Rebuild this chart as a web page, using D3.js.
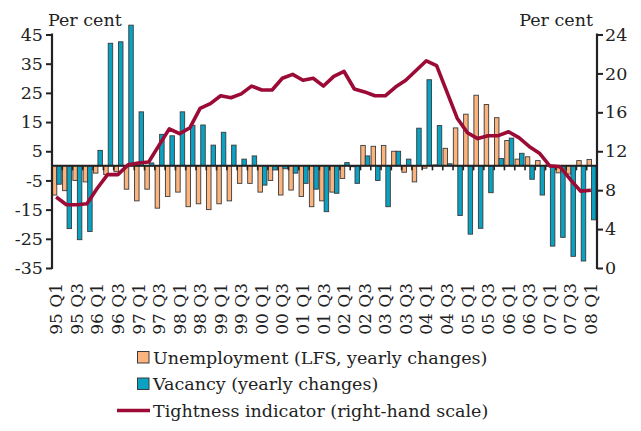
<!DOCTYPE html>
<meta charset="utf-8">
<style>
  body { margin: 0; background: #fff; }
  text { font-family: "DejaVu Serif", serif; fill: #222; }
</style>
<svg width="641" height="431"></svg>
<script src="https://d3js.org/d3.v7.min.js"></script>
<script>

// quarters 95Q1 .. 08Q1
var years = ["95","96","97","98","99","00","01","02","03","04","05","06","07","08"];
var quarters = [];
years.forEach(function(y) {
  for (var q = 1; q <= 4; q++) quarters.push(y + " Q" + q);
});
quarters = quarters.slice(0, 53);

// unemployment, LFS yearly changes (left scale)
var unemployment = [-10, -8.5, -5, -5.5, -2.5, -3, -2, -8, -12, -8,
  -14.5, -10.5, -9, -14, -13, -15, -13, -12, -6, -6,
  -9, -5, -10, -8.3, -10.5, -14, -12, -9, -4.3, -0.3,
  7, 6.7, 7, 5, -2.2, -5.5, -0.8, 0.3, 6, 13,
  17.7, 24.2, 21, 16.5, 8.7, 2.3, 3.1, 1.8, 0.3, -2.4,
  -2.8, 1.8, 2.2];

// vacancy, yearly changes (left scale)
var vacancy = [-6.3, -21.5, -25.3, -22.5, 5.3, 42, 42.5, 48.2, 18.5, 1,
  10.8, 10.3, 18.5, 13.9, 14, 7.1, 11.5, 7.1, 2.3, 3.4,
  -6.6, -1.4, -1, -2.5, -6, -8, -15.7, -9.4, 1.1, -6,
  3.4, -5, -14, 5, 2.3, 12.9, 29.5, 13.8, 0.7, -17,
  -23.4, -21.4, -9.2, 2.5, 9.5, 4.3, -4.6, -10, -27.5, -24.5,
  -31, -32.6, -18.5];

// tightness indicator (right scale)
var tightness = [7.3, 6.5, 6.5, 6.6, 8.2, 9.6, 9.6, 10.6, 10.8, 10.9,
  12.6, 14.3, 13.8, 14.4, 16.4, 16.9, 17.7, 17.5, 17.9, 18.7,
  18.3, 18.3, 19.5, 19.9, 19.3, 19.5, 18.7, 19.7, 20.2, 18.4,
  18.1, 17.7, 17.7, 18.6, 19.3, 20.3, 21.3, 20.8, 18.1, 15.4,
  13.9, 13.3, 13.6, 13.6, 14.0, 13.4, 12.5, 11.8, 10.5, 10.4,
  9.1, 7.9, 8.0];

var leftTicks = [-35, -25, -15, -5, 5, 15, 25, 35, 45];
var rightTicks = [0, 4, 8, 12, 16, 20, 24];

var seriesNames = ["Unemployment (LFS, yearly changes)", "Vacancy (yearly changes)",
  "Tightness indicator (right-hand scale)"];
var colors = ["#fbb47e", "#0aa2c2", "#9b0b36"];

var svg = d3.select("svg");
var left = 52, right = 597, plotTop = 34.5, plotBottom = 268;

var x = d3.scaleBand().domain(quarters).range([left, right]);
var xs = d3.scaleBand().domain(["u", "v"]).range([0.3, x.bandwidth() - 1]);
var y = d3.scaleLinear().domain([-35, 45]).range([plotBottom, plotTop]);
var y2 = d3.scaleLinear().domain([0, 24]).range([plotBottom, plotTop]);

var rows = quarters.map(function(q, i) {
  return {q: q, u: unemployment[i], v: vacancy[i], t: tightness[i]};
});

// bars
var g = svg.append("g");
[["u", 0], ["v", 1]].forEach(function(s) {
  g.selectAll(".bar-" + s[0]).data(rows).enter().append("rect")
      .attr("x", function(d) { return x(d.q) + xs(s[0]); })
      .attr("width", xs.bandwidth())
      .attr("y", function(d) { return y(Math.max(0, d[s[0]])); })
      .attr("height", function(d) { return Math.abs(y(d[s[0]]) - y(0)); })
      .attr("fill", colors[s[1]])
      .attr("stroke", "#3a3a3a")
      .attr("stroke-width", 0.9);
});

// zero line with quarter ticks
svg.append("line")
    .attr("x1", left).attr("x2", right)
    .attr("y1", y(0)).attr("y2", y(0))
    .attr("stroke", "#222").attr("stroke-width", 2);
svg.selectAll(".qtick").data(quarters).enter().append("line")
    .attr("x1", function(d) { return x(d); }).attr("x2", function(d) { return x(d); })
    .attr("y1", y(0)).attr("y2", y(0) + 4.5)
    .attr("stroke", "#222").attr("stroke-width", 1.6);

// tightness line
var line = d3.line()
    .x(function(d) { return x(d.q) + x.bandwidth() / 2 - 1; })
    .y(function(d) { return y2(d.t); });
svg.append("path").datum(rows)
    .attr("d", line)
    .attr("fill", "none")
    .attr("stroke", colors[2])
    .attr("stroke-width", 3.6)
    .attr("stroke-linejoin", "round");

// axes
var axL = svg.append("g").attr("transform", "translate(" + left + ",0)")
    .call(d3.axisLeft(y).tickValues(leftTicks).tickFormat(function(d) { return String(d); })
      .tickSize(6).tickPadding(3).tickSizeOuter(0));
var axR = svg.append("g").attr("transform", "translate(" + right + ",0)")
    .call(d3.axisRight(y2).tickValues(rightTicks).tickSize(6).tickPadding(2).tickSizeOuter(0));
[axL, axR].forEach(function(a) {
  a.select(".domain").attr("stroke", "#222").attr("stroke-width", 2.2)
      .attr("d", "M0," + (plotBottom + 1) + "V" + (plotTop - 1));
  a.selectAll(".tick line").attr("stroke", "#222").attr("stroke-width", 2);
  a.selectAll("text").attr("font-size", 17.5).attr("font-family", "DejaVu Serif").attr("fill", "#222");
});

svg.append("text").attr("x", 48).attr("y", 26).attr("font-size", 17.5).text("Per cent");
svg.append("text").attr("x", 593).attr("y", 26).attr("font-size", 17.5)
    .attr("text-anchor", "end").text("Per cent");

// x labels, every other quarter
svg.selectAll(".xl").data(quarters.filter(function(d, i) { return i % 2 === 0; }))
  .enter().append("text")
    .attr("transform", function(d) {
      return "translate(" + (x(d) + x.bandwidth() / 2 - 1) + ",283) rotate(-90)";
    })
    .attr("dy", "0.36em")
    .attr("text-anchor", "end")
    .attr("font-size", 17)
    .text(function(d) { return d; });

// legend
var lg = svg.append("g");
[0, 1].forEach(function(i) {
  lg.append("rect").attr("x", 137.5).attr("y", 351.5 + i * 26.5)
      .attr("width", 11.5).attr("height", 11.5)
      .attr("fill", colors[i]).attr("stroke", "#3a3a3a").attr("stroke-width", 1);
});
lg.append("line").attr("x1", 117).attr("x2", 150).attr("y1", 410.5).attr("y2", 410.5)
    .attr("stroke", colors[2]).attr("stroke-width", 3.6);
seriesNames.forEach(function(n, i) {
  lg.append("text").attr("x", 153).attr("y", 363.5 + i * 26.5)
      .attr("font-size", 17.5).text(n);
});

</script>
